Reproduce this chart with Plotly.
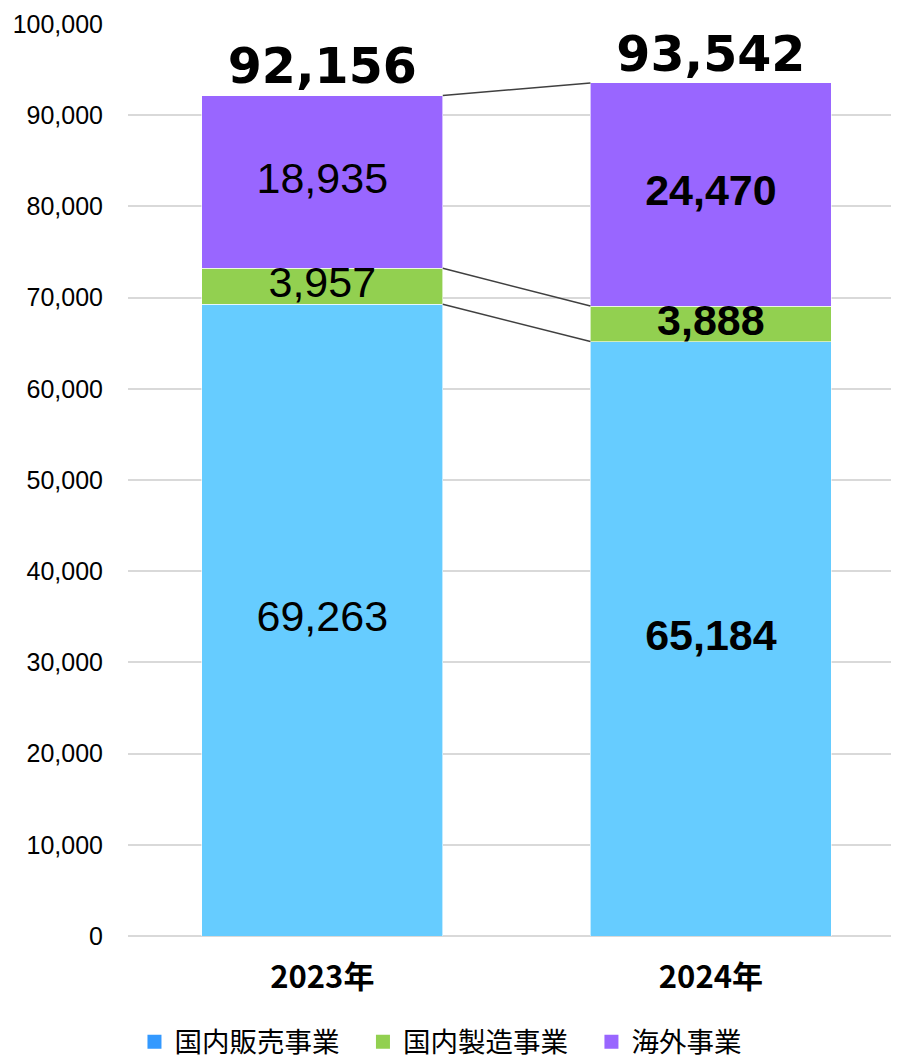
import plotly.graph_objects as go

categories = ["2023年", "2024年"]
domestic_sales = [69263, 65184]
domestic_mfg = [3957, 3888]
overseas = [18935, 24470]
totals = [92156, 93542]
series_names = ["国内販売事業", "国内製造事業", "海外事業"]
bar_colors = ["#66CCFF", "#92D050", "#9966FF"]
legend_colors = ["#3399FF", "#92D050", "#9966FF"]
y_ticks = list(range(0, 100001, 10000))

xs = list(range(len(categories)))
bw = 0.62
series = [domestic_sales, domestic_mfg, overseas]

fig = go.Figure()

for vals, name, col in zip(series, series_names, bar_colors):
    fig.add_trace(go.Bar(
        x=xs, y=vals, name=name, width=bw, showlegend=False,
        marker=dict(color=col, line=dict(color="white", width=0.6)),
        hoverinfo="skip",
    ))

# connector lines between cumulative tops
cum = [0, 0]
for vals in series:
    cum = [c + v for c, v in zip(cum, vals)]
    fig.add_trace(go.Scatter(
        x=[xs[0] + bw / 2, xs[1] - bw / 2], y=cum, mode="lines",
        line=dict(color="#404040", width=1.5), showlegend=False, hoverinfo="skip",
    ))

# segment labels
base = [0, 0]
for vals in series:
    mids = [b + v / 2 for b, v in zip(base, vals)]
    texts = [f"{vals[0]:,}", f"<b>{vals[1]:,}</b>"]
    fig.add_trace(go.Scatter(
        x=xs, y=mids, mode="text", text=texts, textposition="middle center",
        textfont=dict(family="Liberation Sans, Arial", size=43, color="black"),
        showlegend=False, hoverinfo="skip",
    ))
    base = [b + v for b, v in zip(base, vals)]

# totals
fig.add_trace(go.Scatter(
    x=xs, y=totals, mode="text", text=[f"<b>{t:,}</b>" for t in totals],
    textposition="top center",
    textfont=dict(family="DejaVu Sans", size=49, color="black"),
    showlegend=False, hoverinfo="skip",
))

# legend entries
for i, (name, col) in enumerate(zip(series_names, legend_colors)):
    label = name + ("\u00a0\u00a0\u00a0" if i < len(series_names) - 1 else "")
    fig.add_trace(go.Scatter(
        x=[None], y=[None], mode="markers", name=label,
        marker=dict(symbol="square", size=14, color=col),
    ))

fig.update_layout(
    width=899, height=1064,
    margin=dict(l=120, r=8, t=16, b=136, autoexpand=False),
    plot_bgcolor="white", paper_bgcolor="white",
    barmode="stack",
    showlegend=True,
    legend=dict(orientation="h", x=0.0084, xanchor="left", y=-0.116, yanchor="middle",
                traceorder="normal",
                font=dict(family="Noto Sans CJK JP", size=27.5, color="black"),
                itemwidth=30, tracegroupgap=0),
    xaxis=dict(range=[-0.5, 1.484], tickvals=xs,
               ticktext=[f"<b>{c}</b>" for c in categories],
               tickfont=dict(family="Noto Sans CJK JP", size=31, color="black"),
               showgrid=False, zeroline=False, showline=False, ticks="",
               ticklabelstandoff=20),
    yaxis=dict(range=[0, 100000], tickvals=y_ticks,
               ticktext=[f"{v:,}" for v in y_ticks],
               tickfont=dict(family="Liberation Sans, Arial", size=25, color="black"),
               showgrid=True, gridcolor="#D9D9D9", gridwidth=1.5,
               zeroline=True, zerolinecolor="#D9D9D9", zerolinewidth=2,
               showline=False, ticks="", ticklabelstandoff=24,
               ticklabeloverflow="allow"),
)

fig.write_html("out.html")
